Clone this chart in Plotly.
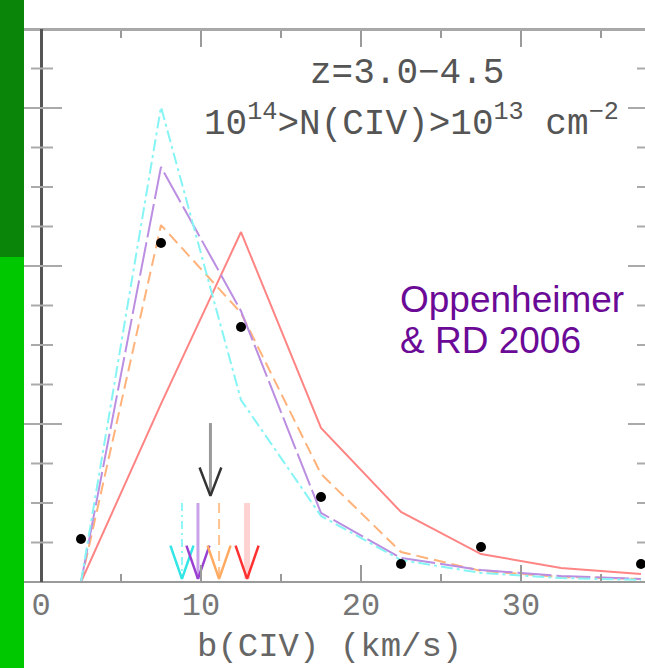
import plotly.graph_objects as go

# ---------------- data ----------------
b_centers = [2.5, 7.5, 12.5, 17.5, 22.5, 27.5, 32.5, 37.5]
observed = [0.0272, 0.2146, 0.1614, 0.0538, 0.0114, 0.0222, None, 0.0114]
model_red = [0.0, 0.1127, 0.2215, 0.0975, 0.0443, 0.0177, 0.0089, 0.0051]
model_orange = [0.0, 0.2259, 0.1703, 0.0684, 0.0190, 0.0070, 0.0032, 0.0019]
model_purple = [0.0, 0.2627, 0.1715, 0.0437, 0.0152, 0.0076, 0.0038, 0.0019]
model_cyan = [0.0, 0.3006, 0.1152, 0.0418, 0.0139, 0.0057, 0.0025, 0.0013]

# median b markers (arrows): observed, then models
obs_median = 10.59
model_medians = [8.81, 9.81, 11.13, 12.88]   # cyan, purple, orange, red

x_tickvals = [0, 10, 20, 30]
x_ticktext = ["0", "10", "20", "30"]

# ---------------- geometry helpers ----------------
W, H = 645, 668
L, R, T, B = 41, 0, 30, 86
PW, PH = W - L - R, H - T - B
XMAX = (W - L - R) / 16.0
YMAX = PH / 1580.0


def xp(px):
    return (px - L) / PW


def yp(py):
    return (H - B - py) / PH


fig = go.Figure()

line_specs = [
    (model_red, "#ff8585", "solid"),
    (model_orange, "#ffb27a", "12px,6px"),
    (model_purple, "#bb8ee2", "34px,5px"),
    (model_cyan, "#86f4f4", "12px,4px,3px,4px"),
]
for vals, col, dash in line_specs:
    fig.add_trace(go.Scatter(x=b_centers, y=vals, mode="lines",
                             line=dict(color=col, width=2, dash=dash),
                             hoverinfo="skip", showlegend=False))

# arrows
arrow_shaft_cols = ["#8ef6f6", "#c9a2ea", "#ffc38f", "#ffd2d2"]
arrow_head_cols = ["#33e6e6", "#9a40d0", "#ffaa60", "#ff3030"]
arrow_dash = ["8px,4px,2px,4px", "solid", "10px,6px", "solid"]
arrow_w = [2, 3, 2, 6]
hw, hh = 0.72, 0.021
for xa, sc, hc, ds, wd in zip(model_medians, arrow_shaft_cols, arrow_head_cols, arrow_dash, arrow_w):
    fig.add_trace(go.Scatter(x=[xa, xa], y=[0.050, 0.002], mode="lines",
                             line=dict(color=sc, width=wd, dash=ds),
                             hoverinfo="skip", showlegend=False))
    fig.add_trace(go.Scatter(x=[xa - hw, xa, xa + hw], y=[0.002 + hh, 0.002, 0.002 + hh],
                             mode="lines", line=dict(color=hc, width=2.5),
                             hoverinfo="skip", showlegend=False))

fig.add_trace(go.Scatter(x=[obs_median, obs_median], y=[0.1006, 0.0545], mode="lines",
                         line=dict(color="#9a9a9a", width=3),
                         hoverinfo="skip", showlegend=False))
fig.add_trace(go.Scatter(x=[obs_median - 0.68, obs_median, obs_median + 0.68],
                         y=[0.0545 + 0.018, 0.0545, 0.0545 + 0.018],
                         mode="lines", line=dict(color="#333333", width=2.5),
                         hoverinfo="skip", showlegend=False))

# observed points
fig.add_trace(go.Scatter(x=b_centers, y=observed, mode="markers",
                         marker=dict(color="black", size=10),
                         hoverinfo="skip", showlegend=False))

shapes = []
# green side bar
shapes.append(dict(type="rect", xref="paper", yref="paper", x0=xp(0), x1=xp(24),
                   y0=yp(257), y1=yp(0), fillcolor="#0a850a", line=dict(width=0), layer="above"))
shapes.append(dict(type="rect", xref="paper", yref="paper", x0=xp(0), x1=xp(24),
                   y0=yp(H), y1=yp(257), fillcolor="#00c800", line=dict(width=0), layer="above"))
# frame lines
shapes.append(dict(type="line", xref="paper", yref="paper", x0=xp(24), x1=1, y0=yp(29.5), y1=yp(29.5),
                   line=dict(color="#a8a8a8", width=3)))
shapes.append(dict(type="line", xref="paper", yref="paper", x0=xp(24), x1=1, y0=yp(582), y1=yp(582),
                   line=dict(color="#9a9a9a", width=2)))
shapes.append(dict(type="line", xref="paper", yref="paper", x0=xp(41.5), x1=xp(41.5), y0=yp(582), y1=yp(29),
                   line=dict(color="#555555", width=3)))
# y ticks (left crossing, right inward)
k = 1
while k * 0.025 < YMAX:
    yv = k * 0.025
    major = (k % 4 == 0)
    shapes.append(dict(type="line", xref="paper", yref="y",
                       x0=xp(24 if major else 31), x1=xp(62 if major else 53), y0=yv, y1=yv,
                       line=dict(color="#aaaaaa", width=2)))
    shapes.append(dict(type="line", xref="paper", yref="y",
                       x0=xp(628 if major else 637), x1=1, y0=yv, y1=yv,
                       line=dict(color="#aaaaaa", width=2)))
    k += 1

SERIF = "Liberation Mono"
annotations = [
    dict(text="z=3.0\u22124.5", x=xp(407), y=yp(73), xref="paper", yref="paper",
         xanchor="center", yanchor="middle",
         showarrow=False, font=dict(family=SERIF, size=36, color="#555555")),
    dict(text="10<sup>14</sup>&gt;N(CIV)&gt;10<sup>13</sup> cm<sup>\u22122</sup>",
         x=xp(411), y=yp(122), xref="paper", yref="paper",
         xanchor="center", yanchor="middle",
         showarrow=False, font=dict(family=SERIF, size=36, color="#555555")),
    dict(text="Oppenheimer", x=xp(398), y=yp(299), xref="paper", yref="paper",
         xanchor="left", yanchor="middle", showarrow=False,
         font=dict(family="Liberation Sans", size=37, color="#6a0a96")),
    dict(text="&amp; RD 2006", x=xp(398), y=yp(340), xref="paper", yref="paper",
         xanchor="left", yanchor="middle", showarrow=False,
         font=dict(family="Liberation Sans", size=37, color="#6a0a96")),
    dict(text="b(CIV) (km/s)", x=xp(329), y=yp(626), xref="paper", yref="paper",
         xanchor="center", yanchor="top",
         showarrow=False, font=dict(family=SERIF, size=34, color="#666666")),
]

fig.update_layout(
    width=W, height=H, autosize=False,
    margin=dict(l=L, r=R, t=T, b=B, pad=0),
    paper_bgcolor="white", plot_bgcolor="white",
    showlegend=False,
    shapes=shapes, annotations=annotations,
    xaxis=dict(range=[0, XMAX], showgrid=False, zeroline=False, showline=False,
               tickvals=x_tickvals, ticktext=x_ticktext,
               ticks="inside", ticklen=17, tickwidth=2, tickcolor="#9a9a9a", mirror="ticks",
               minor=dict(tickvals=[5, 15, 25, 35], ticks="inside", ticklen=8,
                          tickwidth=2, tickcolor="#9a9a9a"),
               tickfont=dict(family=SERIF, size=32, color="#777777")),
    yaxis=dict(range=[0, YMAX], showgrid=False, zeroline=False, showline=False,
               showticklabels=False, ticks=""),
)

fig.write_html("out.html", config={"displayModeBar": False},
               post_script="document.body.style.margin='0';")
